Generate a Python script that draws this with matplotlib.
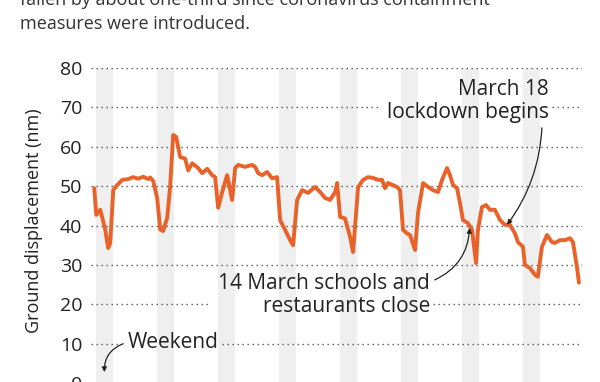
import matplotlib
matplotlib.use("Agg")
import matplotlib.pyplot as plt

plt.rcParams['font.family'] = ['Open Sans', 'DejaVu Sans']

# days since start of record (weekends fall on days 7k .. 7k+2)
days = [-0.17, 0.06, 0.52, 0.75, 1.09, 1.43, 1.66, 2.01, 2.47, 3.04, 3.73, 4.30,
        4.87, 5.45, 6.02, 6.25, 6.60, 7.05, 7.40, 7.74, 8.20, 8.54, 8.89, 9.23,
        9.69, 10.26, 10.61, 11.07, 11.75, 12.21, 12.79, 13.36, 13.70, 14.05, 14.51, 15.08,
        15.65, 16.00, 16.34, 17.14, 17.94, 18.29, 18.64, 19.10, 19.67, 20.24, 20.81, 21.16,
        21.73, 22.31, 22.65, 23.11, 23.68, 24.37, 25.17, 25.75, 26.32, 26.89, 27.47, 27.70,
        28.04, 28.61, 29.19, 29.53, 30.11, 30.68, 31.25, 31.82, 32.40, 32.86, 33.20, 33.54,
        34.58, 34.92, 35.26, 35.72, 36.07, 36.64, 36.98, 37.56, 38.13, 38.70, 39.28, 39.74,
        40.31, 40.65, 41.00, 41.46, 41.80, 42.14, 42.72, 43.18, 43.64, 43.86, 44.32, 44.78,
        45.24, 45.81, 46.39, 46.96, 47.53, 48.11, 48.45, 49.03, 49.25, 49.83, 50.40, 50.74,
        51.20, 51.78, 52.35, 52.69, 53.27, 53.84, 54.42, 54.76, 55.22, 55.45]
displacement = [49.5, 42.7, 44.0, 42.0, 39.0, 34.3, 35.5, 49.0, 50.3, 51.6, 51.8, 52.3,
                51.9, 52.4, 51.8, 52.2, 51.3, 47.0, 39.0, 38.6, 42.0, 50.0, 63.0, 62.5,
                57.4, 57.0, 54.0, 55.8, 54.6, 53.3, 54.4, 52.8, 52.3, 44.5, 48.5, 52.8,
                46.5, 54.6, 55.4, 54.9, 55.4, 54.9, 53.3, 52.8, 53.6, 52.0, 52.3, 41.4,
                38.9, 36.3, 35.0, 46.5, 49.0, 48.3, 49.8, 48.5, 47.0, 46.5, 48.5, 50.8,
                42.2, 41.8, 37.1, 33.3, 49.8, 51.6, 52.3, 52.1, 51.6, 51.6, 49.5, 50.8,
                49.8, 49.0, 38.9, 38.0, 37.6, 33.8, 43.2, 50.8, 49.8, 49.0, 48.5, 51.6,
                54.6, 52.8, 50.3, 49.5, 45.7, 41.4, 40.6, 38.9, 30.5, 38.9, 44.7, 45.2,
                44.0, 44.0, 41.4, 40.2, 40.2, 38.0, 35.8, 34.6, 30.0, 29.2, 27.5, 27.0,
                34.6, 37.6, 35.8, 35.6, 36.3, 36.3, 36.8, 35.8, 29.5, 25.5]
weekend_starts = [0, 7, 14, 21, 28, 35, 42, 49]
y_ticks = [0, 10, 20, 30, 40, 50, 60, 70, 80]

fig = plt.figure(figsize=(6, 3.82), dpi=100)
ax = fig.add_axes([0.152, -0.003, 0.818, 0.825])

for s in weekend_starts:
    ax.axvspan(s, s + 2, color='#efefef', lw=0, zorder=0)

ax.plot(days, displacement, color='#e8622a', lw=2.8, zorder=3,
        solid_joinstyle='round', solid_capstyle='round')

xmin, xmax = -0.52, 55.8
ax.set_xlim(xmin, xmax)
ax.set_ylim(0, 80)
ax.set_yticks(y_ticks)
ax.set_xticks([])
for sp in ax.spines.values():
    sp.set_visible(False)
ax.tick_params(axis='y', length=0, pad=6.5, labelsize=14, labelcolor='#222222')
ax.set_ylabel('Ground displacement (nm)', fontsize=13, color='#222222')
ax.yaxis.set_label_coords(-0.098, 0.514)

ink = '#222222'
labels = [
    ax.text(3.7, 10.2, 'Weekend', fontsize=15, color=ink, ha='left', va='center'),
    ax.text(38.36, 22.4, '14 March schools and\nrestaurants close', fontsize=15, color=ink,
            ha='right', va='center', multialignment='right', linespacing=1.15),
    ax.text(52.0, 71.6, 'March 18\nlockdown begins', fontsize=15, color=ink,
            ha='right', va='center', multialignment='right', linespacing=1.15),
]

arrow = dict(arrowstyle='-|>', color=ink, lw=0.9, mutation_scale=7, shrinkA=0, shrinkB=0)
ax.annotate('', xy=(1.0, 2.8), xytext=(3.15, 10.0),
            arrowprops=dict(arrow, connectionstyle='arc3,rad=0.35'))
ax.annotate('', xy=(42.9, 39.4), xytext=(38.9, 26.2),
            arrowprops=dict(arrow, connectionstyle='arc3,rad=0.3'))
ax.annotate('', xy=(47.2, 40.2), xytext=(51.2, 64.8),
            arrowprops=dict(arrow, connectionstyle='arc3,rad=-0.15'))

# dotted gridlines, broken where a label sits on them
fig.canvas.draw()
renderer = fig.canvas.get_renderer()
inv = ax.transData.inverted()
boxes = []
for t in labels:
    bb = t.get_window_extent(renderer)
    (x0, y0), (x1, y1) = inv.transform([(bb.x0 - 9, bb.y0), (bb.x1 + 3, bb.y1)])
    boxes.append((x0, x1, y0, y1))

for y in y_ticks:
    gaps = sorted((b[0], b[1]) for b in boxes if b[2] < y < b[3])
    start = xmin
    pieces = []
    for g0, g1 in gaps:
        pieces.append((start, g0))
        start = g1
    pieces.append((start, xmax))
    for a, b in pieces:
        ax.plot([a, b], [y, y], color='#555555', linestyle=(0, (1, 2.6)), lw=1.0, zorder=1)

fig.text(20 / 600, 1 - 5 / 382, 'fallen by about one-third since coronavirus containment',
         fontsize=13, color='#333333', va='baseline')
fig.text(20 / 600, 1 - 29 / 382, 'measures were introduced.',
         fontsize=13, color='#333333', va='baseline')

fig.savefig('out.png', dpi=100)
